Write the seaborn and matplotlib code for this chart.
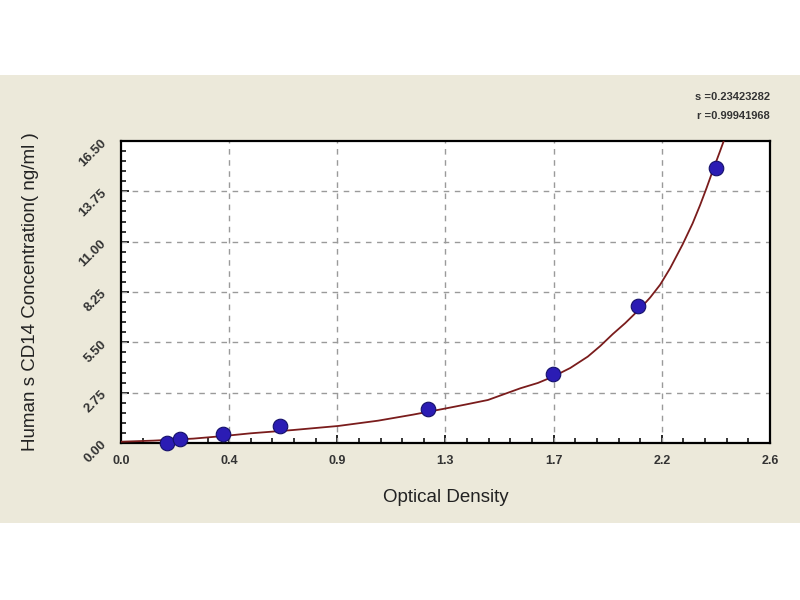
import numpy as np
import pandas as pd
import matplotlib
matplotlib.use("Agg")
import matplotlib.pyplot as plt
import seaborn as sns
from matplotlib.patches import Rectangle
from matplotlib.ticker import MultipleLocator, FixedLocator

# Standard points (OD, concentration)
std_od = [0.184, 0.236, 0.409, 0.637, 1.23, 1.732, 2.07, 2.385]
std_conc = [0.0, 0.23, 0.47, 0.94, 1.88, 3.75, 7.5, 15.0]

# Fitted curve
curve_od = [0.0, 0.13, 0.29, 0.41, 0.52, 0.69, 0.87, 1.03, 1.17, 1.29, 1.38, 1.47,
            1.60, 1.67, 1.73, 1.80, 1.87, 1.92, 1.97, 2.02, 2.08, 2.12, 2.16, 2.20,
            2.25, 2.29, 2.32, 2.345, 2.37, 2.40, 2.42, 2.44]
curve_conc = [0.07, 0.13, 0.24, 0.38, 0.53, 0.71, 0.93, 1.22, 1.55, 1.86, 2.1, 2.35,
              2.99, 3.28, 3.62, 4.1, 4.72, 5.3, 5.95, 6.55, 7.35, 7.95, 8.65, 9.55,
              10.85, 12.0, 13.0, 13.9, 14.85, 15.95, 16.7, 17.45]

x_ticks = [0.0, 2.6/6, 2*2.6/6, 3*2.6/6, 4*2.6/6, 5*2.6/6, 2.6]
x_labels = ["0.0", "0.4", "0.9", "1.3", "1.7", "2.2", "2.6"]
y_ticks = [0.0, 2.75, 5.5, 8.25, 11.0, 13.75, 16.5]
y_labels = ["0.00", "2.75", "5.50", "8.25", "11.00", "13.75", "16.50"]

stats_lines = ["s =0.23423282", "r =0.99941968"]

sns.set_style("white")
plt.rcParams['font.family'] = ['Liberation Sans', 'DejaVu Sans']

fig = plt.figure(figsize=(8, 6), dpi=100, facecolor="white")
fig.patches.append(Rectangle((0, 1 - 523/600), 1, (523 - 75)/600,
                             transform=fig.transFigure, facecolor="#ECE9DA",
                             edgecolor="none", zorder=-10))
ax = fig.add_axes([121/800, 1 - 443/600, (770 - 121)/800, (443 - 141)/600])
ax.set_facecolor("white")

curve_df = pd.DataFrame({"od": curve_od, "conc": curve_conc})
pts_df = pd.DataFrame({"od": std_od, "conc": std_conc})

sns.lineplot(data=curve_df, x="od", y="conc", ax=ax, color="#7A1C1C",
             linewidth=1.3, sort=False, zorder=3)
sns.scatterplot(data=pts_df, x="od", y="conc", ax=ax, s=110, color="#2B1CB4",
                edgecolor="#14106A", linewidth=0.8, zorder=4, clip_on=False)

ax.set_xlim(0, 2.6)
ax.set_ylim(0, 16.5)
ax.xaxis.set_major_locator(FixedLocator(x_ticks))
ax.yaxis.set_major_locator(FixedLocator(y_ticks))
ax.xaxis.set_minor_locator(MultipleLocator(2.6/30))
ax.yaxis.set_minor_locator(MultipleLocator(0.55))
ax.set_xticklabels(x_labels, fontsize=9, fontweight="bold", color="#333333")
ax.set_yticklabels(y_labels, fontsize=9.5, fontweight="bold", color="#333333",
                   rotation=45, ha="right", va="center", rotation_mode="anchor")
ax.tick_params(axis="both", which="major", direction="in", length=6, width=1.2,
               color="black", bottom=True, left=True)
ax.tick_params(axis="x", which="major", pad=9)
ax.tick_params(axis="y", which="major", pad=12)
ax.tick_params(axis="both", which="minor", direction="in", length=3.5, width=1.1,
               color="black", bottom=True, left=True)

for sp in ax.spines.values():
    sp.set_visible(True)
    sp.set_color("black")
    sp.set_linewidth(1.6)

for xv in x_ticks[1:-1]:
    ax.axvline(xv, color="#9A9A9A", linestyle=(0, (4, 4)), linewidth=1.0, zorder=1)
for yv in y_ticks[1:-1]:
    ax.axhline(yv, color="#9A9A9A", linestyle=(0, (4, 4)), linewidth=1.0, zorder=1)

ax.set_xlabel("Optical Density", fontsize=13.5, color="#222222")
ax.set_ylabel("Human s CD14 Concentration( ng/ml )", fontsize=13.5, color="#222222")
ax.xaxis.set_label_coords(0.5, (443 - 489) / 302)
ax.yaxis.set_label_coords((39 - 121) / 649, 0.5)

fig.text(770/800, 1 - 97/600, stats_lines[0], ha="right", va="center",
         fontsize=8, fontweight="bold", color="#333333")
fig.text(770/800, 1 - 116/600, stats_lines[1], ha="right", va="center",
         fontsize=8, fontweight="bold", color="#333333")

fig.savefig("out.png", dpi=100, facecolor="white")
